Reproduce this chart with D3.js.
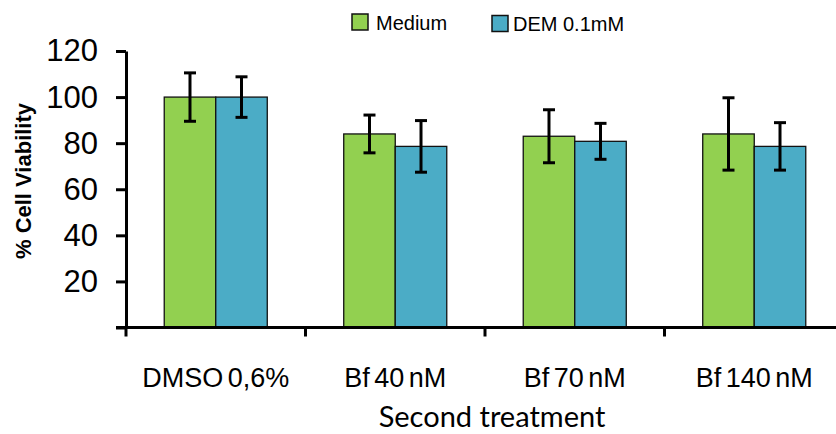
<!DOCTYPE html>
<html>
<head>
<meta charset="utf-8">
<script src="https://cdn.jsdelivr.net/npm/d3@7/dist/d3.min.js"></script>
<style>
  html, body { margin: 0; padding: 0; background: #fff; }
  svg { display: block; }
</style>
</head>
<body>
<svg id="chart" width="836" height="434"></svg>
<script>
// Cell viability after second treatment, with/without DEM pre-treatment
const categories = ["DMSO 0,6%", "Bf 40 nM", "Bf 70 nM", "Bf 140 nM"];
const seriesNames = ["Medium", "DEM 0.1mM"];
const mediumValues = [100, 84, 83, 84];
const mediumErrors = [10.5, 8.2, 11.5, 15.7];
const demValues = [100, 78.6, 80.8, 78.6];
const demErrors = [8.8, 11.2, 7.8, 10.3];
const yTicks = [0, 20, 40, 60, 80, 100, 120];
const seriesColors = ["#92D050", "#4BACC6"];

const svg = d3.select("#chart");
svg.append("rect").attr("width", 836).attr("height", 434).attr("fill", "#fff");

const y = d3.scaleLinear().domain([0, 120]).range([327.5, 51]);
const x = d3.scaleBand().domain(categories).range([126, 844])
  .paddingInner(0.426).paddingOuter(0.213);
const xs = d3.scaleBand().domain(seriesNames).range([0, x.bandwidth()]);

const rows = categories.map((c, i) => ({
  cat: c,
  items: [
    { s: seriesNames[0], v: mediumValues[i], e: mediumErrors[i], color: seriesColors[0] },
    { s: seriesNames[1], v: demValues[i], e: demErrors[i], color: seriesColors[1] }
  ]
}));

// bars
const groups = svg.append("g").selectAll("g").data(rows).join("g")
  .attr("transform", d => `translate(${x(d.cat)},0)`);

groups.selectAll("rect").data(d => d.items).join("rect")
  .attr("x", d => xs(d.s))
  .attr("y", d => y(d.v))
  .attr("width", xs.bandwidth())
  .attr("height", d => y(0) - y(d.v))
  .attr("fill", d => d.color)
  .attr("stroke", "#111")
  .attr("stroke-width", 1.3);

// error bars
const eb = groups.selectAll("g.err").data(d => d.items).join("g").attr("class", "err")
  .attr("stroke", "#000").attr("stroke-width", 3);
eb.append("line")
  .attr("x1", d => xs(d.s) + xs.bandwidth() / 2)
  .attr("x2", d => xs(d.s) + xs.bandwidth() / 2)
  .attr("y1", d => y(d.v + d.e))
  .attr("y2", d => y(d.v - d.e));
eb.append("line")
  .attr("x1", d => xs(d.s) + xs.bandwidth() / 2 - 6)
  .attr("x2", d => xs(d.s) + xs.bandwidth() / 2 + 6)
  .attr("y1", d => y(d.v + d.e))
  .attr("y2", d => y(d.v + d.e));
eb.append("line")
  .attr("x1", d => xs(d.s) + xs.bandwidth() / 2 - 6)
  .attr("x2", d => xs(d.s) + xs.bandwidth() / 2 + 6)
  .attr("y1", d => y(d.v - d.e))
  .attr("y2", d => y(d.v - d.e));

// y axis
const yAxis = svg.append("g").attr("transform", "translate(126,0)")
  .call(d3.axisLeft(y).tickValues(yTicks).tickSize(10).tickSizeOuter(0).tickPadding(18)
    .tickFormat(d => d === 0 ? "" : d));
yAxis.select(".domain").attr("stroke", "#000").attr("stroke-width", 3);
yAxis.selectAll(".tick line").attr("stroke", "#000").attr("stroke-width", 3);
yAxis.selectAll(".tick text")
  .attr("font-family", "'Liberation Sans', Arial, sans-serif")
  .attr("font-size", 31).attr("fill", "#000");

// x axis baseline and category separators
svg.append("line").attr("x1", 116).attr("x2", 836)
  .attr("y1", y(0)).attr("y2", y(0))
  .attr("stroke", "#000").attr("stroke-width", 3);
const boundaries = d3.range(categories.length).map(i => x.range()[0] + i * x.step());
svg.append("g").selectAll("line").data(boundaries).join("line")
  .attr("x1", d => d).attr("x2", d => d)
  .attr("y1", y(0)).attr("y2", y(0) + 9)
  .attr("stroke", "#000").attr("stroke-width", 3);

// category labels
svg.append("g").selectAll("text").data(categories).join("text")
  .attr("x", d => x(d) + x.bandwidth() / 2)
  .attr("y", 387)
  .attr("text-anchor", "middle")
  .attr("font-family", "'Liberation Sans', Arial, sans-serif")
  .attr("font-size", 27)
  .attr("word-spacing", -3)
  .attr("fill", "#000")
  .text(d => d);

// axis titles
svg.append("text")
  .attr("x", 492).attr("y", 427)
  .attr("text-anchor", "middle")
  .attr("font-family", "Lato, 'Open Sans', sans-serif")
  .attr("font-size", 29)
  .attr("fill", "#000")
  .text("Second treatment");

svg.append("text")
  .attr("transform", "translate(31,181) rotate(-90)")
  .attr("text-anchor", "middle")
  .attr("font-family", "'Liberation Sans', Arial, sans-serif")
  .attr("font-weight", "bold")
  .attr("font-size", 22)
  .attr("fill", "#000")
  .text("% Cell Viability");

// legend
const legendPos = [{ bx: 352, by: 14, tx: 376 }, { bx: 492, by: 15.5, tx: 513 }];
const legend = svg.append("g").selectAll("g").data(seriesNames).join("g");
legend.append("rect")
  .attr("x", (d, i) => legendPos[i].bx)
  .attr("y", (d, i) => legendPos[i].by)
  .attr("width", 16).attr("height", 16)
  .attr("fill", (d, i) => seriesColors[i])
  .attr("stroke", "#111").attr("stroke-width", 1.5);
legend.append("text")
  .attr("x", (d, i) => legendPos[i].tx)
  .attr("y", (d, i) => legendPos[i].by + 15.5)
  .attr("font-family", "'Liberation Sans', Arial, sans-serif")
  .attr("font-size", 20)
  .attr("fill", "#000")
  .text(d => d);
</script>
</body>
</html>
